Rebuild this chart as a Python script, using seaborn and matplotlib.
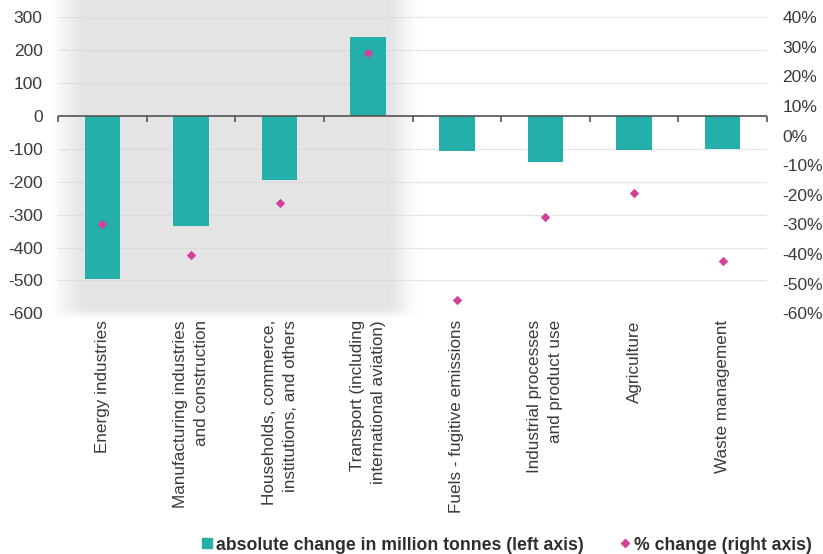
import numpy as np
import pandas as pd
import matplotlib
matplotlib.use("Agg")
import matplotlib.pyplot as plt
from matplotlib.lines import Line2D
import seaborn as sns

# Emission changes by sector
categories = [
    "Energy industries",
    "Manufacturing industries\nand construction",
    "Households, commerce,\ninstitutions, and others",
    "Transport (including\ninternational aviation)",
    "Fuels - fugitive emissions",
    "Industrial processes\nand product use",
    "Agriculture",
    "Waste management",
]
abs_change = [-497, -336, -195, 241, -108, -141, -105, -101]   # million tonnes
pct_change = [-30, -40.4, -22.8, 28, -55.4, -27.4, -19.5, -42.3]  # percent

left_ticks = [300, 200, 100, 0, -100, -200, -300, -400, -500, -600]
right_ticks = [40, 30, 20, 10, 0, -10, -20, -30, -40, -50, -60]

TEAL = "#25AFAB"
PINK = "#D2409A"
TEXT = "#3a3a3a"

df = pd.DataFrame({"sector": categories, "absolute": abs_change, "percent": pct_change})

sns.set_style("white")
plt.rcParams["font.family"] = ["Liberation Sans", "DejaVu Sans"]

W, H = 823, 554
fig = plt.figure(figsize=(W / 100, H / 100), dpi=100)

# soft grey highlight behind the first four sectors
bg = fig.add_axes([0, 0, 1, 1], zorder=0)
bg.set_axis_off()
xs = np.arange(W)[None, :]
ys = np.arange(H)[:, None]


def smooth(v, a, b):
    t = np.clip((v - a) / (b - a), 0, 1)
    return t * t * (3 - 2 * t)


alpha = smooth(xs, 45, 88) * (1 - smooth(xs, 385, 420)) * (1 - smooth(ys, 306, 320))
img = np.zeros((H, W, 4))
img[..., :3] = 0.895
img[..., 3] = alpha
bg.imshow(img, extent=(0, 1, 0, 1), aspect="auto", interpolation="bilinear")
bg.set_xlim(0, 1)
bg.set_ylim(0, 1)

ax = fig.add_axes([58 / W, (H - 313.3) / H, 709 / W, 296 / H], zorder=2)
ax.patch.set_visible(False)

sns.barplot(data=df, x="sector", y="absolute", color=TEAL, width=0.4,
            saturation=1, linewidth=0, ax=ax, zorder=3)

ax.set_ylim(-600, 300)
ax.set_yticks(left_ticks)
ax.set_yticklabels([str(v) for v in left_ticks])
ax.yaxis.grid(True, color="#cfcfcf", linestyle=(0, (1.2, 1.2)), linewidth=0.8, zorder=0)
ax.set_axisbelow(True)

# zero line with sector separators
ax.axhline(0, color="#555555", linewidth=1.2, zorder=4)
bounds = np.arange(len(categories) + 1) - 0.5
ax.plot(bounds, np.zeros_like(bounds), ls="none", marker=3, ms=4.5, mew=1.2,
        color="#555555", zorder=4, clip_on=False)

ax.set_xticks(range(len(categories)))
ax.set_xticklabels(categories, rotation=90, ha="center", va="top",
                   multialignment="right", fontsize=12.3, color=TEXT, linespacing=1.5)
ax.tick_params(axis="x", length=0, pad=5)
ax.tick_params(axis="y", length=0, pad=11, labelsize=12.5, labelcolor=TEXT)
ax.set_xlabel("")
ax.set_ylabel("")
for s in ax.spines.values():
    s.set_visible(False)

ax2 = ax.twinx()
sns.stripplot(data=df, x="sector", y="percent", jitter=False, marker="D",
              color=PINK, size=4.8, linewidth=0, ax=ax2, zorder=5)
ax2.set_ylim(-60, 40)
ax2.set_yticks(right_ticks)
ax2.set_yticklabels([f"{v}%" for v in right_ticks])
ax2.tick_params(axis="y", length=0, pad=11, labelsize=12.5, labelcolor=TEXT)
ax2.set_ylabel("")
ax2.set_xlabel("")
for s in ax2.spines.values():
    s.set_visible(False)
ax.set_xlim(-0.5, len(categories) - 0.5)

handles = [
    Line2D([], [], ls="none", marker="s", ms=6.5, color=TEAL),
    Line2D([], [], ls="none", marker="D", ms=4, color=PINK),
]
labels = ["absolute change in million tonnes (left axis)", "% change (right axis)"]
fig.legend(handles, labels, loc="center", bbox_to_anchor=(507 / W, 9 / H), ncol=2,
           frameon=False, handlelength=0.5, handletextpad=0.25, columnspacing=2.1,
           prop={"family": "Liberation Sans", "weight": "bold", "size": 12.7},
           labelcolor="#2e2e2e", borderpad=0, borderaxespad=0)

fig.savefig("out.png", dpi=100)
